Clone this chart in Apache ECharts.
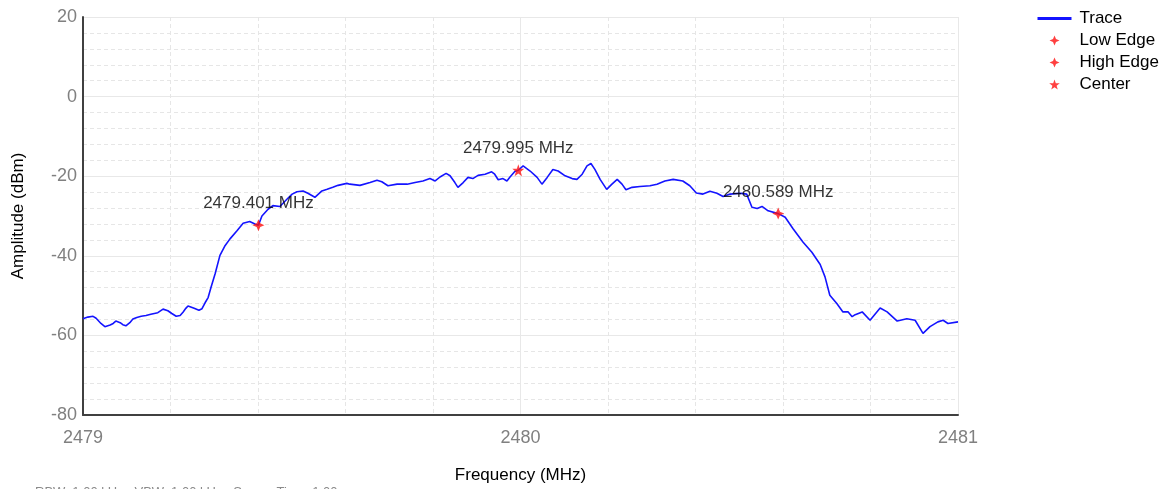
<!DOCTYPE html>
<html>
<head>
<meta charset="utf-8">
<script src="https://cdn.jsdelivr.net/npm/echarts@6/dist/echarts.min.js"></script>
<style>
html,body{margin:0;padding:0;background:#fff;overflow:hidden;width:1167px;height:489px;}
#c{width:1167px;height:489px;}
</style>
</head>
<body>
<div id="c"></div>
<script>
// ---- data ----
const traceFreq = [
2479.000,2479.011,2479.023,2479.030,2479.034,2479.041,2479.050,2479.062,2479.069,2479.075,
2479.085,2479.091,2479.098,2479.107,2479.114,2479.123,2479.133,2479.144,2479.155,2479.171,
2479.183,2479.194,2479.203,2479.213,2479.222,2479.229,2479.235,2479.240,2479.254,2479.265,
2479.272,2479.279,2479.286,2479.293,2479.302,2479.313,2479.325,2479.336,2479.352,2479.366,
2479.381,2479.393,2479.401,2479.409,2479.423,2479.434,2479.450,2479.466,2479.478,2479.489,
2479.503,2479.514,2479.530,2479.546,2479.558,2479.571,2479.583,2479.603,2479.610,2479.633,
2479.656,2479.672,2479.683,2479.697,2479.718,2479.741,2479.759,2479.777,2479.793,2479.805,
2479.816,2479.830,2479.839,2479.850,2479.857,2479.869,2479.880,2479.891,2479.903,2479.919,
2479.934,2479.941,2479.949,2479.960,2479.969,2479.976,2479.987,2479.995,2480.006,2480.022,
2480.038,2480.049,2480.061,2480.074,2480.086,2480.102,2480.118,2480.129,2480.141,2480.152,
2480.161,2480.170,2480.182,2480.197,2480.209,2480.221,2480.232,2480.241,2480.255,2480.273,
2480.296,2480.312,2480.330,2480.349,2480.371,2480.387,2480.402,2480.417,2480.433,2480.449,
2480.463,2480.479,2480.502,2480.517,2480.529,2480.541,2480.552,2480.566,2480.589,2480.605,
2480.623,2480.646,2480.666,2480.685,2480.696,2480.707,2480.723,2480.737,2480.749,2480.758,
2480.765,2480.781,2480.799,2480.822,2480.838,2480.861,2480.883,2480.902,2480.920,2480.936,
2480.954,2480.966,2480.977,2481.000
];
const traceAmp = [
-55.8,-55.4,-55.2,-55.7,-56.2,-57.0,-57.8,-57.4,-57.0,-56.4,
-56.8,-57.3,-57.6,-56.8,-55.9,-55.5,-55.2,-55.0,-54.7,-54.3,
-53.4,-53.8,-54.5,-55.2,-55.0,-54.1,-53.2,-52.6,-53.2,-53.7,
-53.3,-51.8,-50.5,-47.8,-44.5,-39.9,-37.4,-35.75,-33.7,-31.8,
-31.4,-32.0,-32.3,-30.0,-28.3,-27.4,-27.6,-25.8,-24.5,-23.9,
-23.7,-24.3,-25.3,-23.7,-23.3,-22.8,-22.3,-21.8,-22.0,-22.3,
-21.6,-21.0,-21.4,-22.4,-22.0,-22.0,-21.6,-21.2,-20.6,-21.2,
-20.2,-19.3,-19.9,-21.6,-22.8,-21.6,-20.3,-20.6,-19.8,-19.5,
-18.9,-19.5,-20.9,-20.6,-21.2,-20.2,-18.8,-18.5,-17.4,-18.7,
-20.3,-22.0,-20.3,-18.3,-18.7,-19.9,-20.6,-20.8,-19.5,-17.4,
-16.8,-18.3,-20.8,-23.3,-22.0,-20.8,-22.0,-23.4,-22.8,-22.6,
-22.4,-22.0,-21.2,-20.8,-21.2,-22.4,-24.2,-24.5,-23.8,-24.3,
-25.1,-24.5,-24.3,-24.5,-27.8,-28.1,-27.6,-28.7,-29.4,-30.3,
-33.2,-36.6,-39.1,-42.2,-45.3,-49.9,-52.0,-54.1,-54.1,-55.3,
-54.8,-54.1,-56.2,-53.1,-54.1,-56.4,-55.8,-56.2,-59.5,-57.8,
-56.6,-56.2,-57.0,-56.6
];
const lowEdge  = [2479.401, -32.3];
const highEdge = [2480.589, -29.4];
const center   = [2479.995, -18.5];
const xTicks = [2479, 2480, 2481];
const yTicks = [-80, -60, -40, -20, 0, 20];
const footerText = 'RBW: 1.00 kHz   VBW: 1.00 kHz   Sweep Time: 1.00 s';

const star4 = 'path://M0,-10 L3,-3 L10,0 L3,3 L0,10 L-3,3 L-10,0 L-3,-3 Z';
const star5 = 'path://M0,-10 L2.35,-3.24 L9.51,-3.09 L3.8,1.24 L5.88,8.09 L0,4 L-5.88,8.09 L-3.8,1.24 L-9.51,-3.09 L-2.35,-3.24 Z';

const chart = echarts.init(document.getElementById('c'), null, {renderer: 'canvas', width: 1167, height: 489});
const FONT = '"Liberation Sans", Arial, sans-serif';
const markerLabel = {
  show: true, position: 'top', distance: 7,
  formatter: p => p.value[0].toFixed(3) + ' MHz',
  color: '#000', fontSize: 17, fontFamily: FONT
};
chart.setOption({
  animation: false,
  backgroundColor: '#fff',
  textStyle: {fontFamily: FONT},
  grid: {left: 83, right: 209, top: 17, bottom: 72, containLabel: false},
  legend: {
    orient: 'vertical', left: 1036, top: 10, padding: 0,
    itemWidth: 34, itemHeight: 10, itemGap: 5,
    textStyle: {color: '#000', fontSize: 17, fontFamily: FONT, padding: [0, 0, 0, 3]},
    data: [
      {name: 'Trace', lineStyle: {width: 3}, itemStyle: {opacity: 0}},
      {name: 'Low Edge'}, {name: 'High Edge'}, {name: 'Center'}
    ]
  },
  xAxis: {
    type: 'value', min: xTicks[0], max: xTicks[xTicks.length - 1], interval: 1,
    name: 'Frequency (MHz)', nameLocation: 'middle', nameGap: 52,
    nameTextStyle: {color: '#000', fontSize: 17, fontFamily: FONT},
    axisLine: {show: true, onZero: false, lineStyle: {color: '#404040', width: 2}},
    axisTick: {show: false},
    axisLabel: {color: '#808080', fontSize: 18, margin: 14, fontFamily: FONT,
      formatter: v => String(v)},
    splitLine: {show: true, lineStyle: {color: '#e8e8e8', width: 1}},
    minorTick: {show: false, splitNumber: 5},
    minorSplitLine: {show: true, lineStyle: {color: '#e6e6e6', type: [4, 3], width: 1}}
  },
  yAxis: {
    type: 'value', min: yTicks[0], max: yTicks[yTicks.length - 1], interval: 20,
    name: 'Amplitude (dBm)', nameLocation: 'middle', nameGap: 56,
    nameTextStyle: {color: '#000', fontSize: 17, fontFamily: FONT},
    axisLine: {show: true, onZero: false, lineStyle: {color: '#404040', width: 2}},
    axisTick: {show: false},
    axisLabel: {color: '#808080', fontSize: 18, margin: 6, fontFamily: FONT,
      formatter: v => String(v)},
    splitLine: {show: true, lineStyle: {color: '#e8e8e8', width: 1}},
    minorTick: {show: false, splitNumber: 5},
    minorSplitLine: {show: true, lineStyle: {color: '#e6e6e6', type: [4, 3], width: 1}}
  },
  graphic: [{
    type: 'text', left: 35, top: 486,
    style: {text: footerText, fill: '#8a8a8a', font: '13px ' + FONT}
  }],
  series: [
    {
      name: 'Trace', type: 'line', showSymbol: false, symbol: 'none',
      data: traceFreq.map((f, i) => [f, traceAmp[i]]),
      lineStyle: {color: '#1414ff', width: 1.6},
      itemStyle: {color: '#1414ff'}, z: 2
    },
    {
      name: 'Low Edge', type: 'scatter', symbol: star4, symbolSize: 12,
      itemStyle: {color: '#ff1010'}, data: [lowEdge], label: markerLabel, z: 3
    },
    {
      name: 'High Edge', type: 'scatter', symbol: star4, symbolSize: 12,
      itemStyle: {color: '#ff1010'}, data: [highEdge], label: markerLabel, z: 3
    },
    {
      name: 'Center', type: 'scatter', symbol: star5, symbolSize: 12,
      itemStyle: {color: '#ff1010'}, data: [center], label: markerLabel, z: 3
    }
  ]
});
</script>
</body>
</html>
